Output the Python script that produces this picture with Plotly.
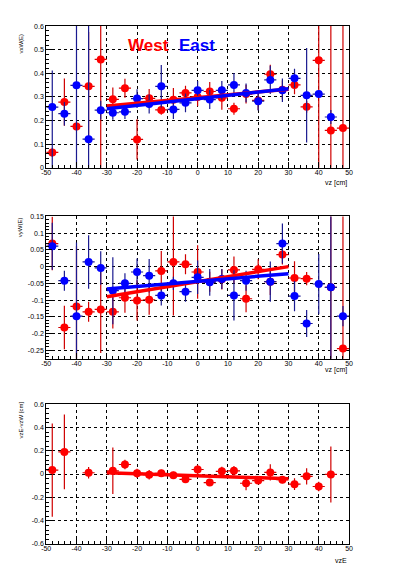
import plotly.graph_objects as go

# ---------------- data ----------------
vz_bins = [-48, -44, -40, -36, -32, -28, -24, -20, -16, -12, -8, -4, 0, 4, 8, 12, 16, 20, 24, 28, 32, 36, 40, 44, 48]
bin_half = 2

# top panel: vx
vx_west = [0.065, 0.278, 0.175, 0.345, 0.459, 0.290, 0.337, 0.120, 0.294, 0.245, 0.288, 0.317, 0.300, 0.323, 0.296, 0.250, 0.312, 0.285, 0.396, 0.330, 0.351, 0.258, 0.455, 0.158, 0.168]
vx_west_err = [0.02, 0.10, 0.02, 0.23, 0.60, 0.05, 0.04, 0.085, 0.04, 0.02, 0.05, 0.03, 0.04, 0.04, 0.05, 0.025, 0.04, 0.04, 0.04, 0.04, 0.04, 0.025, 0.60, 0.60, 0.60]
vx_east = [0.257, 0.229, 0.349, 0.121, 0.244, 0.233, 0.237, 0.293, 0.270, 0.345, 0.247, 0.275, 0.328, 0.289, 0.328, 0.351, 0.317, 0.282, 0.372, 0.328, 0.379, 0.307, 0.312, 0.215, None]
vx_east_err_up = [0.155, 0.05, 0.60, 0.60, 0.04, 0.03, 0.03, 0.04, 0.04, 0.09, 0.04, 0.04, 0.04, 0.04, 0.04, 0.05, 0.04, 0.04, 0.06, 0.05, 0.04, 0.20, 0.01, 0.03, 0]
vx_east_err_dn = [0.26, 0.05, 0.60, 0.60, 0.04, 0.03, 0.03, 0.04, 0.04, 0.09, 0.04, 0.04, 0.04, 0.04, 0.04, 0.05, 0.04, 0.04, 0.06, 0.05, 0.04, 0.20, 0.01, 0.03, 0]

# middle panel: vy
vy_west = [0.069, -0.182, -0.119, -0.135, -0.128, -0.135, -0.093, -0.101, -0.099, -0.013, 0.014, 0.007, -0.016, -0.045, -0.038, -0.010, -0.096, -0.008, -0.045, 0.036, -0.034, -0.036, None, -0.062, -0.245]
vy_west_err = [0.08, 0.065, 0.18, 0.03, 0.13, 0.05, 0.045, 0.06, 0.045, 0.06, 0.16, 0.03, 0.08, 0.03, 0.03, 0.04, 0.04, 0.03, 0.04, 0.03, 0.05, 0.02, 0, 0.60, 0.60]
vy_east = [0.061, -0.042, -0.148, 0.014, -0.004, -0.072, -0.050, -0.016, -0.027, -0.086, -0.050, -0.075, -0.032, -0.047, -0.037, -0.086, -0.042, None, -0.045, 0.069, -0.088, -0.170, -0.052, -0.062, -0.148]
vy_east_err = [0.07, 0.03, 0.22, 0.08, 0.05, 0.10, 0.03, 0.04, 0.05, 0.03, 0.02, 0.03, 0.05, 0.04, 0.03, 0.075, 0.03, 0, 0.06, 0.06, 0.045, 0.04, 0.09, 0.60, 0.03]

# bottom panel: vzE - vzW
dvz = [0.034, 0.190, None, 0.011, None, 0.028, 0.082, 0.006, -0.006, 0.006, -0.011, -0.045, 0.039, -0.073, 0.023, 0.028, -0.079, -0.056, 0.014, -0.048, -0.087, -0.020, -0.107, -0.003, None]
dvz_err = [0.40, 0.32, 0, 0.05, 0, 0.20, 0.04, 0.04, 0.04, 0.03, 0.03, 0.03, 0.04, 0.03, 0.04, 0.04, 0.06, 0.03, 0.07, 0.03, 0.05, 0.07, 0.04, 0.24, 0]

# linear fits (endpoints)
fit_x = [-30, 30]
fit_vx_west = [0.262, 0.333]
fit_vx_east = [0.250, 0.335]
fit_vy_west = [-0.090, 0.000]
fit_vy_east = [-0.067, -0.021]
fit_dvz = [0.012, -0.040]

x_ticks = [-50, -40, -30, -20, -10, 0, 10, 20, 30, 40, 50]
x_ticktext = ["-50", "-40", "-30", "-20", "-10", "0", "10", "20", "30", "40", "50"]
vx_ticks = [0, 0.1, 0.2, 0.3, 0.4, 0.5, 0.6]
vx_ticktext = ["0", "0.1", "0.2", "0.3", "0.4", "0.5", "0.6"]
vy_ticks = [-0.25, -0.2, -0.15, -0.1, -0.05, 0, 0.05, 0.1, 0.15]
vy_ticktext = ["-0.25", "-0.2", "-0.15", "-0.1", "-0.05", "0", "0.05", "0.1", "0.15"]
dvz_ticks = [-0.6, -0.4, -0.2, 0, 0.2, 0.4, 0.6]
dvz_ticktext = ["-0.6", "-0.4", "-0.2", "0", "0.2", "0.4", "0.6"]

# ---------------- style ----------------
RED = "#ff0000"
RED_BAR = "#d00000"
BLUE = "#0000ff"
BLUE_BAR = "#1a1a90"
FONT = "Liberation Sans, Arial, sans-serif"
OFF = 8                       # default page body margin
W, H = 396 - OFF, 572 - OFF   # figure size so it fits the window


def px_x(x):
    return (x - OFF) / W


def px_y(y):
    return 1 - (y - OFF) / H


def dom_x():
    return [px_x(42), px_x(352)]


def dom_y(top_px, bot_px):
    return [px_y(bot_px), px_y(top_px)]


fig = go.Figure()


def add_points(xa, ya, yvals, eplus, eminus, color, barcolor):
    fig.add_trace(go.Scatter(
        x=vz_bins, y=yvals, mode="markers", xaxis=xa, yaxis=ya,
        marker=dict(color=color, size=8, line=dict(width=0)),
        error_y=dict(type="data", array=eplus, arrayminus=eminus, symmetric=False,
                     color=barcolor, thickness=1.2, width=0),
        error_x=dict(type="constant", value=bin_half, color=barcolor, thickness=1.2, width=0),
        showlegend=False, hoverinfo="skip"))


def add_fit(xa, ya, yvals, color):
    fig.add_trace(go.Scatter(x=fit_x, y=yvals, mode="lines", xaxis=xa, yaxis=ya,
                             line=dict(color=color, width=3.5), showlegend=False, hoverinfo="skip"))


# top
add_points("x", "y", vx_west, vx_west_err, vx_west_err, RED, RED_BAR)
add_points("x", "y", vx_east, vx_east_err_up, vx_east_err_dn, BLUE, BLUE_BAR)
add_fit("x", "y", fit_vx_west, RED)
add_fit("x", "y", fit_vx_east, BLUE)
# middle
add_points("x2", "y2", vy_west, vy_west_err, vy_west_err, RED, RED_BAR)
add_points("x2", "y2", vy_east, vy_east_err, vy_east_err, BLUE, BLUE_BAR)
add_fit("x2", "y2", fit_vy_west, RED)
add_fit("x2", "y2", fit_vy_east, BLUE)
# bottom
add_points("x3", "y3", dvz, dvz_err, dvz_err, RED, RED_BAR)
add_fit("x3", "y3", fit_dvz, RED)

tickfont = dict(family=FONT, size=7, color="black")


def xaxis(anchor):
    return dict(domain=dom_x(), anchor=anchor, range=[-50, 50],
                tickvals=x_ticks, ticktext=x_ticktext, ticks="inside", ticklen=6,
                tickcolor="black", tickfont=tickfont, ticklabelstandoff=-2,
                minor=dict(ticks="inside", ticklen=3, dtick=2, tick0=0, tickcolor="black", showgrid=False),
                showgrid=True, gridcolor="black", griddash="dot", gridwidth=1,
                showline=True, linecolor="black", linewidth=1, mirror=True, zeroline=False)


def yaxis(anchor, dom, rng, tv, tt, mdt):
    return dict(domain=dom, anchor=anchor, range=rng,
                tickvals=tv, ticktext=tt, ticks="inside", ticklen=6,
                tickcolor="black", tickfont=tickfont,
                minor=dict(ticks="inside", ticklen=3, dtick=mdt, tick0=0, tickcolor="black", showgrid=False),
                showgrid=True, gridcolor="black", griddash="dot", gridwidth=1,
                showline=True, linecolor="black", linewidth=1, mirror=True, zeroline=False)


fig.update_layout(
    width=W, height=H, autosize=False,
    margin=dict(l=0, r=0, t=0, b=0),
    paper_bgcolor="white", plot_bgcolor="white",
    font=dict(family=FONT, color="black"),
    xaxis=xaxis("y"),
    yaxis=yaxis("x", dom_y(22.3, 165.7), [0, 0.6], vx_ticks, vx_ticktext, 0.02),
    xaxis2=xaxis("y2"),
    yaxis2=yaxis("x2", dom_y(215, 359), [-0.275, 0.15], vy_ticks, vy_ticktext, 0.01),
    xaxis3=xaxis("y3"),
    yaxis3=yaxis("x3", dom_y(405, 546.7), [-0.6, 0.6], dvz_ticks, dvz_ticktext, 0.04),
)


def ann(text, x, y, xa="left", ya="middle", size=7, color="black", angle=0, bold=False):
    fig.add_annotation(text=f"<b>{text}</b>" if bold else text, xref="paper", yref="paper",
                       x=px_x(x), y=px_y(y), xanchor=xa, yanchor=ya, showarrow=False,
                       textangle=angle, font=dict(family=FONT, size=size, color=color))


ann("West", 124, 42, size=17, color=RED, bold=True)
ann("East", 176, 42, size=17, color=BLUE, bold=True)
ann("vz [cm]", 352, 181, xa="right", size=7)
ann("vz [cm]", 352, 370, xa="right", size=7)
ann("vzE", 352, 563, xa="right", size=7)
ann("vxW(E)", 16, 28, ya="top", xa="center", size=6, angle=-90)
ann("vyW(E)", 16, 214, ya="top", xa="center", size=6, angle=-90)
ann("vzE-vzW [cm]", 16, 400, ya="top", xa="center", size=6, angle=-90)

fig.write_html("out.html")
